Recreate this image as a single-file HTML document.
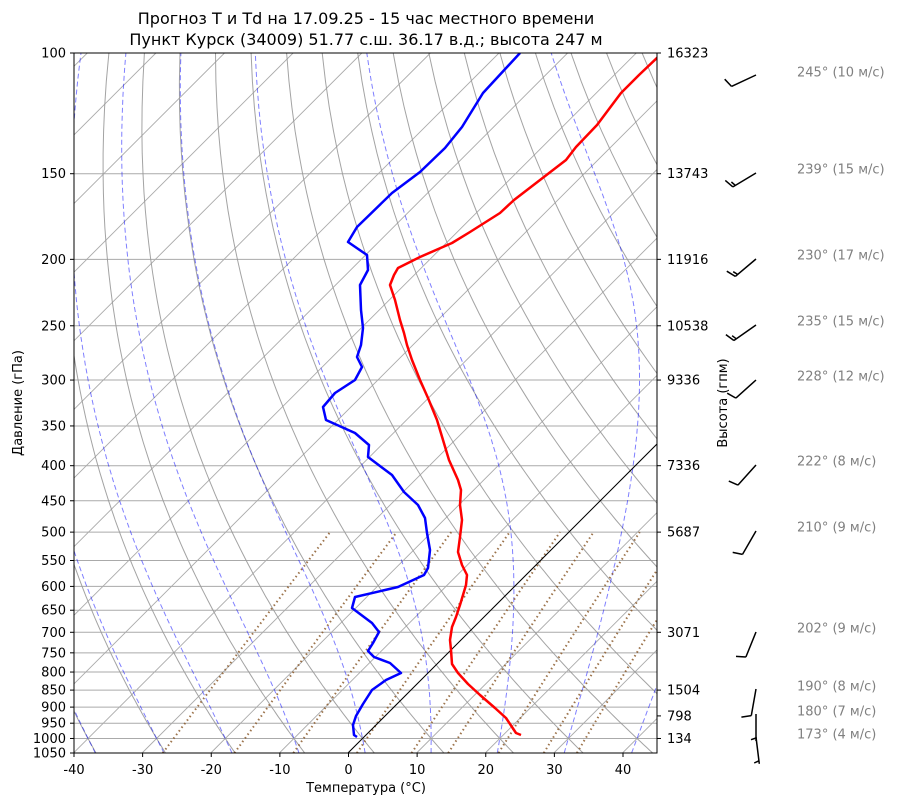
<!DOCTYPE html>
<html><head><meta charset="utf-8"><style>
html,body{margin:0;padding:0;background:#fff;width:900px;height:806px;overflow:hidden}
svg text{font-family:"DejaVu Sans","Liberation Sans",sans-serif}
</style></head><body>
<svg id="s" xmlns="http://www.w3.org/2000/svg" width="900" height="806" viewBox="0 0 900 806">
<defs><clipPath id="c"><rect x="74" y="53" width="583" height="700"/></clipPath></defs>
<g id="grid" clip-path="url(#c)"></g>
<g id="data" clip-path="url(#c)">
<polyline fill="none" stroke="#0000ff" stroke-width="2.5" stroke-linejoin="round" points="520,53 483,93 462,127 445,148 420,172 392,193 357,227 348,242 367,255 368,270 360,285 361,310 363,328 361,345 357,357 362,367 355,380 335,393 323,407 326,420 355,433 369,445 368,457 392,475 404,492 418,505 425,518 427,533 430,550 428,568 424,575 398,587 355,597 352,608 372,623 379,632 373,643 368,651 374,657 390,663 401,673 386,680 372,690 363,704 356,716 353,725 354,735 357,737"/>
<polyline fill="none" stroke="#ff0000" stroke-width="2.5" stroke-linejoin="round" points="659,56 639,75 621,93 597,125 576,147 566,160 540,180 514,200 500,213 470,232 452,243 420,257 398,268 394,275 390,285 395,300 400,320 404,333 407,345 412,360 420,380 428,398 437,420 443,440 449,460 458,480 461,490 460,505 462,520 460,537 458,552 462,565 467,575 466,585 463,595 460,605 456,617 452,627 450,640 451,650 452,664 458,673 468,684 480,695 495,708 506,718 512,727 516,733 521,735"/>
</g>
<rect x="74" y="53" width="583" height="700" fill="none" stroke="#000" stroke-width="1"/>
<g id="ax" font-size="13" fill="#000"></g>
<text x="366" y="24" font-size="16" text-anchor="middle">Прогноз T и Td на 17.09.25 - 15 час местного времени</text>
<text x="366" y="45" font-size="16" text-anchor="middle">Пункт Курск (34009) 51.77 с.ш. 36.17 в.д.; высота 247 м</text>
<text x="366" y="792" font-size="13" text-anchor="middle">Температура (°C)</text>
<text transform="translate(22,403) rotate(-90)" font-size="13" text-anchor="middle">Давление (гПа)</text>
<text transform="translate(727,403) rotate(-90)" font-size="13" text-anchor="middle">Высота (гпм)</text>
<g id="wind"></g>
</svg>
<script>
(function(){
var NS="http://www.w3.org/2000/svg";
function el(par,tag,at,txt){var e=document.createElementNS(NS,tag);for(var k in at)e.setAttribute(k,at[k]);if(txt!==undefined)e.textContent=txt;par.appendChild(e);return e;}
function Y(p){return 53+Math.log(p/100)/Math.log(10.5)*700;}
function X(T,p){return 348+T*6.8625+(753-Y(p));}
var g=document.getElementById('grid'),ax=document.getElementById('ax'),w=document.getElementById('wind');
function poly(pts,st){el(g,'polyline',Object.assign({points:pts.map(function(a){return a[0].toFixed(1)+','+a[1].toFixed(1)}).join(' '),fill:'none'},st));}
var plist=[100,150,200,250,300,350,400,450,500,550,600,650,700,750,800,850,900,950,1000,1050];
plist.forEach(function(p){var y=Y(p);el(g,'line',{x1:74,x2:657,y1:y,y2:y,stroke:'#aaaaaa','stroke-width':1});
 el(ax,'line',{x1:70,x2:74,y1:y,y2:y,stroke:'#000'});
 el(ax,'text',{x:66,y:y+4.5,'text-anchor':'end'},String(p));});
for(var T=-140;T<=60;T+=10){poly([[X(T,1050),Y(1050)],[X(T,100),Y(100)]],{stroke:'#aaaaaa','stroke-width':0.9});}
var ps=[];for(var p=1050;p>=100;p-=10)ps.push(p);
for(var t0=-40;t0<=200;t0+=10){var th=t0+273.15;poly(ps.map(function(p){return [X(th*Math.pow(p/1000,0.2857)-273.15,p),Y(p)]}),{stroke:'#999999','stroke-width':1,'stroke-opacity':0.9});}
var Rd=287.04,Cp=1005.7,Lv=2.501e6,eps=0.622;
function es(Tc){return 6.112*Math.exp(17.67*Tc/(Tc+243.5));}
function dTdp(T,p){var e=es(T-273.15),rs=eps*e/(p-e);return (Rd*T+Lv*rs)/(Cp+Lv*Lv*rs*eps/(Rd*T*T))/p;}
function integ(T0,p0,p1,dp){var T=T0,p=p0,out=[[T,p]];while((dp<0&&p>p1)||(dp>0&&p<p1)){var k1=dTdp(T,p),k2=dTdp(T+k1*dp/2,p+dp/2);T+=k2*dp;p+=dp;out.push([T,p]);}return out;}
for(var t0=-40;t0<=50;t0+=10){var up=integ(t0+273.15,1000,100,-5),dn=integ(t0+273.15,1000,1050,5);
 var all=dn.reverse().concat(up.slice(1));
 poly(all.map(function(a){return [X(a[0]-273.15,a[1]),Y(a[1])]}),{stroke:'#0000ff','stroke-opacity':0.5,'stroke-width':1,'stroke-dasharray':'5,3'});}
[0.0004,0.001,0.002,0.004,0.007,0.01,0.016,0.024,0.032].forEach(function(r){var pts=[];for(var p=1050;p>=500;p-=10){var e=p*r/(eps+r),l=Math.log(e/6.112),td=243.5*l/(17.67-l);pts.push([X(td,p),Y(p)]);}
 poly(pts,{stroke:'#8b5a2b','stroke-opacity':0.85,'stroke-width':2,'stroke-dasharray':'1.5,3'});});
poly([[X(0,1050),Y(1050)],[X(0,100),Y(100)]],{stroke:'#000','stroke-width':1});
for(var T=-40;T<=40;T+=10){var x=74+(T+40)*6.8625;el(ax,'line',{x1:x,x2:x,y1:753,y2:757,stroke:'#000'});el(ax,'text',{x:x,y:774,'text-anchor':'middle'},String(T));}
[[100,16323],[150,13743],[200,11916],[250,10538],[300,9336],[400,7336],[500,5687],[700,3071],[850,1504],[927,798],[1000,134]].forEach(function(a){var y=Y(a[0]);el(ax,'line',{x1:657,x2:661,y1:y,y2:y,stroke:'#000'});el(ax,'text',{x:667,y:y+4.5},String(a[1]));});
var wl=[[245,10,75,72],[239,15,173,169],[230,17,259,255],[235,15,325,321],[228,12,380,376],[222,8,465,461],[210,9,531,527],[202,9,632,628],[190,8,689,686],[180,7,714,711],[173,4,737,734]];
wl.forEach(function(b){var d=b[0]*Math.PI/180,ux=Math.sin(d),uy=-Math.cos(d);
 var tx=756,ty=b[2],L=27,ex=tx+ux*L,ey=ty+uy*L;
 var px=-uy,py=ux;
 var bx=0.9*px+0.3*ux,by=0.9*py+0.3*uy;
 var s=Math.round(b[1]/5)*5,path='M'+tx+','+ty+' L'+ex.toFixed(1)+','+ey.toFixed(1);
 var pos=0,full=Math.floor(s/10),half=(s%10)>=5?1:0;
 for(var i=0;i<full;i++){var sx=ex-ux*pos,sy=ey-uy*pos;path+=' M'+sx.toFixed(1)+','+sy.toFixed(1)+' l'+(bx*10.5).toFixed(1)+','+(by*10.5).toFixed(1);pos+=3;}
 if(half){if(full===0)pos=3;var sx=ex-ux*pos,sy=ey-uy*pos;path+=' M'+sx.toFixed(1)+','+sy.toFixed(1)+' l'+(bx*5.5).toFixed(1)+','+(by*5.5).toFixed(1);}
 el(w,'path',{d:path,fill:'none',stroke:'#000','stroke-width':1.5});
 el(w,'text',{x:797,y:b[3]+4.5,'font-size':13,fill:'#808080'},b[0]+'° ('+b[1]+' м/с)');});
})();
</script>
</body></html>
